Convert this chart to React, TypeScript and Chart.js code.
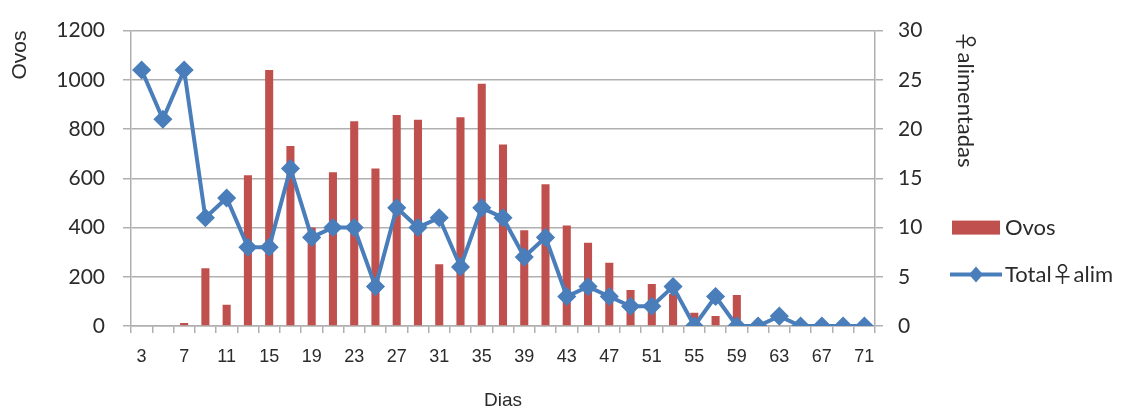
import { useEffect, useRef } from "react";
import { Chart, registerables } from "chart.js";

Chart.register(...registerables);

// Dias de observação (3 a 71, de 2 em 2)
const dias: number[] = [
  3, 5, 7, 9, 11, 13, 15, 17, 19, 21, 23, 25, 27, 29, 31, 33, 35, 37,
  39, 41, 43, 45, 47, 49, 51, 53, 55, 57, 59, 61, 63, 65, 67, 69, 71,
];

// Número de ovos postos em cada dia
const ovos: number[] = [
  0, 0, 12, 235, 86, 612, 1040, 731, 400, 625, 832, 640, 857, 838, 251, 848, 984, 737,
  389, 576, 408, 338, 257, 146, 171, 130, 54, 41, 126, 0, 0, 0, 0, 0, 0,
];

// Total de fêmeas alimentadas
const totalFemeas: number[] = [
  26, 21, 26, 11, 13, 8, 8, 16, 9, 10, 10, 4, 12, 10, 11, 6, 12, 11,
  7, 9, 3, 4, 3, 2, 2, 4, 0, 3, 0, 0, 1, 0, 0, 0, 0,
];

const serieOvos = "Ovos";
const serieFemeas = "Total\u2640alim";
const tituloEsquerdo = "Ovos";
const tituloDireito = "\u2640alimentadas";
const tituloX = "Dias";

const VERMELHO = "#c0504d";
const AZUL = "#4a7ebb";
const GRADE = "#b0b0b0";
const TEXTO = "#2b2b2b";
const CALIBRI = "Lato, 'Noto Sans CJK JP', sans-serif";
const ARIAL = "'Liberation Sans', Arial, sans-serif";

// Legenda desenhada à direita da área do gráfico
const legendaLateral = {
  id: "legendaLateral",
  afterDraw(chart: any) {
    const { ctx, chartArea } = chart;
    const x0 = chartArea.right + 77;
    const y1 = chartArea.top + 197;
    const y2 = chartArea.top + 244;
    ctx.save();
    // Ovos: retângulo vermelho
    ctx.fillStyle = VERMELHO;
    ctx.fillRect(x0, y1 - 7, 48, 14);
    // Total♀alim: linha com losango
    ctx.strokeStyle = AZUL;
    ctx.lineWidth = 4;
    ctx.beginPath();
    ctx.moveTo(x0 - 2, y2);
    ctx.lineTo(x0 + 50, y2);
    ctx.stroke();
    ctx.fillStyle = AZUL;
    ctx.beginPath();
    ctx.moveTo(x0 + 24, y2 - 8);
    ctx.lineTo(x0 + 31, y2);
    ctx.lineTo(x0 + 24, y2 + 8);
    ctx.lineTo(x0 + 17, y2);
    ctx.closePath();
    ctx.fill();
    ctx.fillStyle = TEXTO;
    ctx.font = `22px ${CALIBRI}`;
    ctx.textBaseline = "middle";
    ctx.textAlign = "left";
    ctx.fillText(serieOvos, x0 + 53, y1);
    ctx.fillText(serieFemeas, x0 + 53, y2);
    ctx.restore();
  },
};

export default function App() {
  const canvasRef = useRef<HTMLCanvasElement | null>(null);

  useEffect(() => {
    const canvas = canvasRef.current;
    if (!canvas) return;

    const chart = new Chart(canvas, {
      type: "bar",
      data: {
        labels: dias.map(String),
        datasets: [
          {
            type: "line",
            label: serieFemeas,
            data: totalFemeas,
            yAxisID: "yFemeas",
            borderColor: AZUL,
            backgroundColor: AZUL,
            borderWidth: 4,
            pointStyle: "rectRot",
            pointRadius: 8.5,
            pointBorderWidth: 1.5,
            pointBorderColor: AZUL,
            pointBackgroundColor: AZUL,
            tension: 0,
            order: 0,
          },
          {
            type: "bar",
            label: serieOvos,
            data: ovos,
            yAxisID: "yOvos",
            backgroundColor: VERMELHO,
            borderWidth: 0,
            barPercentage: 0.38,
            categoryPercentage: 1,
            order: 1,
          },
        ],
      },
      options: {
        responsive: false,
        animation: false,
        layout: { padding: { top: 30, left: 0, right: 136, bottom: 0 } },
        plugins: {
          legend: { display: false },
          tooltip: { enabled: false },
        },
        scales: {
          x: {
            type: "category",
            offset: true,
            grid: {
              offset: true,
              drawOnChartArea: false,
              drawTicks: true,
              tickLength: 7,
              color: GRADE,
              lineWidth: 1.5,
            },
            border: { display: true, color: GRADE, width: 1.5 },
            ticks: {
              autoSkip: false,
              maxRotation: 0,
              padding: 13,
              color: TEXTO,
              font: { family: ARIAL, size: 18 },
              callback: (_v: any, i: number) => (i % 2 === 0 ? String(dias[i]) : ""),
            },
            title: {
              display: true,
              text: tituloX,
              color: TEXTO,
              font: { family: ARIAL, size: 19, lineHeight: 1 },
              padding: { top: 0, bottom: 0 },
            },
            afterFit: (s: any) => {
              s.height = 84;
            },
          },
          yOvos: {
            type: "linear",
            position: "left",
            min: 0,
            max: 1200,
            grid: {
              color: GRADE,
              lineWidth: 1.5,
              drawTicks: true,
              tickLength: 8,
            },
            border: { display: true, color: GRADE, width: 1.5 },
            ticks: {
              stepSize: 200,
              padding: 18,
              color: TEXTO,
              font: { family: CALIBRI, size: 21 },
              callback: (v: any) => String(v),
            },
            title: {
              display: true,
              text: tituloEsquerdo,
              align: "end",
              color: TEXTO,
              font: { family: ARIAL, size: 21, lineHeight: 1.2 },
              padding: { top: 8, bottom: 0 },
            },
            afterFit: (s: any) => {
              s.width = 131;
            },
          },
          yFemeas: {
            type: "linear",
            position: "right",
            min: 0,
            max: 30,
            grid: {
              drawOnChartArea: false,
              drawTicks: true,
              tickLength: 8,
              color: GRADE,
              lineWidth: 1.5,
            },
            border: { display: true, color: GRADE, width: 1.5 },
            ticks: {
              stepSize: 5,
              padding: 15,
              color: TEXTO,
              font: { family: CALIBRI, size: 21 },
              callback: (v: any) => String(v),
            },
            title: {
              display: true,
              text: tituloDireito,
              align: "end",
              color: TEXTO,
              font: { family: CALIBRI, size: 22, lineHeight: 1.2 },
              padding: { top: 7, bottom: 0 },
            },
            afterFit: (s: any) => {
              s.width = 110;
            },
          },
        },
      },
      plugins: [legendaLateral],
    });

    return () => chart.destroy();
  }, []);

  return (
    <div style={{ position: "absolute", left: 0, top: 0, width: 1121, height: 410, background: "#fff" }}>
      <canvas ref={canvasRef} width={1121} height={410} />
    </div>
  );
}
